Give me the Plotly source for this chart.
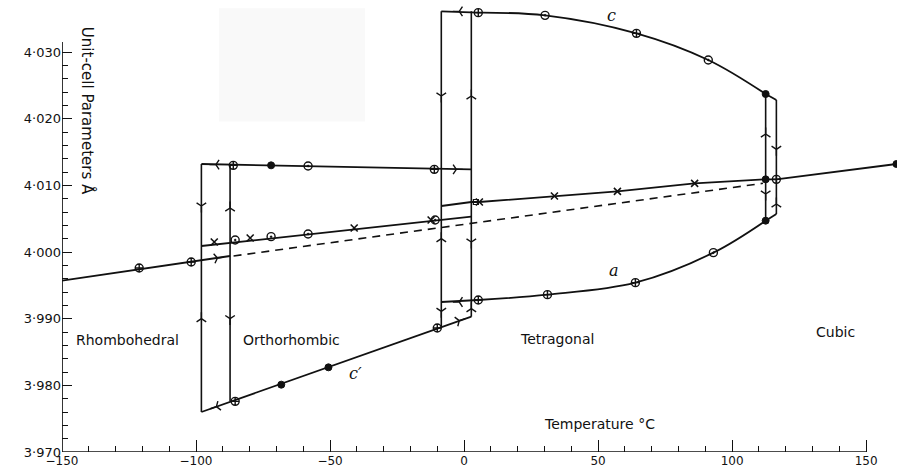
import plotly.graph_objects as go

# ---------------- data (temperature °C, unit-cell parameter Å) ----------------
# rhombohedral a (solid) and its cubic extrapolation (dashed)
rh_T = [-150.0, -87.3]
rh_a = [3.9957, 3.9994]
extrap_T = [-86.0, 111.5]
extrap_a = [3.9994, 4.0103]

# orthorhombic branches
orth_T = [-98.0, 2.7]
orth_c = [4.0132, 4.0124]
orth_a = [4.0009, 4.0053]
orth_cp = [3.9760, 3.9903]

# tetragonal c
tet_c_flat_T = [-8.5, 5.3]
tet_c_flat = [4.0361, 4.0359]
tet_c_T = [5.3, 30.2, 64.3, 91.1, 112.5]
tet_c = [4.0359, 4.0355, 4.0328, 4.0288, 4.0237]
tet_c_end_T = [112.5, 116.5]
tet_c_end = [4.0237, 4.0228]

# tetragonal a
tet_a_flat_T = [-8.5, 5.3]
tet_a_flat = [3.9925, 3.9928]
tet_a_T = [5.3, 31.1, 63.9, 93.0, 112.5]
tet_a = [3.9928, 3.9936, 3.9954, 3.9999, 4.0047]
tet_a_end_T = [112.5, 116.5]
tet_a_end = [4.0047, 4.0057]

# tetragonal mean (crosses) and cubic a
tet_m_T = [-8.5, 2.7, 5.7, 33.7, 57.2, 86.0, 112.5]
tet_m = [4.0069, 4.0075, 4.0075, 4.0084, 4.0091, 4.0103, 4.0109]
cub_T = [112.5, 116.5, 161.3]
cub_a = [4.0109, 4.0109, 4.0132]

# transition (hysteresis) verticals
trans_T = [-98.0, -87.3, -8.5, 2.7, 112.5, 116.5]
trans_top = [4.0132, 4.0131, 4.0361, 4.0361, 4.0237, 4.0228]
trans_bot = [3.9760, 3.9776, 3.9888, 3.9903, 4.0047, 4.0057]

# measured points
pc_T = [-121.2, -101.8, -86.1, -11.1, -85.4, -10.0, 5.3, 64.3, 5.3, 31.1, 63.9, 116.5]
pc_v = [3.9976, 3.9985, 4.0130, 4.0124, 3.9776, 3.9886, 4.0359, 4.0328, 3.9928, 3.9936, 3.9954, 4.0109]
pd_T = [-58.2, -85.4, -72.0, -58.2, -10.8, 30.2, 91.1, 93.0]
pd_v = [4.0129, 4.0018, 4.0023, 4.0027, 4.0048, 4.0355, 4.0288, 3.9999]
pf_T = [-72.0, -68.2, -50.6, 112.5, 112.5, 112.5, 161.3]
pf_v = [4.0130, 3.9801, 3.9827, 4.0237, 4.0047, 4.0109, 4.0132]
px_T = [-93.2, -79.8, -41.0, -12.3, 5.7, 33.7, 57.2, 86.0]
px_v = [4.0015, 4.0021, 4.0036, 4.0048, 4.0075, 4.0084, 4.0091, 4.0103]
psq_T = [4.4]
psq_v = [4.0075]

# direction arrows along the curves
arr_down_T = [-98.0, -87.3, -8.5, -8.5, 2.7, 112.5, 116.5]
arr_down_v = [4.0069, 3.9900, 4.0234, 3.9911, 4.0015, 4.0087, 4.0154]
arr_up_T = [-98.0, -87.3, -8.5, 2.7, 2.7, 112.5, 116.5]
arr_up_v = [3.9900, 4.0066, 4.0020, 4.0234, 3.9915, 4.0177, 4.0072]
arr_left_T = [-92.6, -1.8, -1.8, -92.4]
arr_left_v = [4.0131, 4.0361, 3.9925, 3.9768]
arr_left_ang = [0, 0, 0, -19]
arr_right_T = [-2.9, -92.0, -1.8]
arr_right_v = [4.0124, 3.9991, 3.9897]
arr_right_ang = [0, -8, -19]

# axis ticks
x_major = [-150, -100, -50, 0, 50, 100, 150]
x_major_text = ["\u2212150", "\u2212100", "\u221250", "0", "50", "100", "150"]
x_minor = [t for t in range(-150, 151, 10) if t % 50 != 0]
y_major = [3.970, 3.980, 3.990, 4.000, 4.010, 4.020, 4.030]
y_major_text = ["3\u00b7970", "3\u00b7980", "3\u00b7990", "4\u00b7000", "4\u00b7010", "4\u00b7020", "4\u00b7030"]
y_minor = [round(3.970 + 0.002 * i, 3) for i in range(31) if i % 5 != 0]

# ---------------- figure ----------------
BLK = "#111111"
LW = 1.8
fig = go.Figure()

def line(x, y, dash="solid", shape="linear", w=LW):
    fig.add_trace(go.Scatter(x=x, y=y, mode="lines", line=dict(color=BLK, width=w, dash=dash, shape=shape),
                             hoverinfo="skip", showlegend=False))

line(rh_T, rh_a)
line(extrap_T, extrap_a, dash="8px,6px", w=1.6)
line(orth_T, orth_c)
line(orth_T, orth_a)
line(orth_T, orth_cp)
line(tet_c_flat_T, tet_c_flat)
line(tet_c_T, tet_c, shape="spline")
line(tet_c_end_T, tet_c_end)
line(tet_a_flat_T, tet_a_flat)
line(tet_a_T, tet_a, shape="spline")
line(tet_a_end_T, tet_a_end)
line(tet_m_T, tet_m)
line(cub_T, cub_a)
for t, top, bot in zip(trans_T, trans_top, trans_bot):
    line([t, t], [bot, top], w=1.6)

def pts(x, y, symbol, size, lw=1.2, fill=BLK):
    fig.add_trace(go.Scatter(x=x, y=y, mode="markers",
                             marker=dict(symbol=symbol, size=size, color=fill,
                                         line=dict(color=BLK, width=lw)),
                             hoverinfo="skip", showlegend=False))

pts(pc_T, pc_v, "circle-cross-open", 8, 1.4)
pts(pd_T, pd_v, "circle-open-dot", 8, 1.4)
pts(pf_T, pf_v, "circle", 7, 1)
pts(px_T, px_v, "x-thin", 7, 1.6)
pts(psq_T, psq_v, "square-open", 5, 1.2)

def arrows(x, y, symbol, angle=0):
    fig.add_trace(go.Scatter(x=x, y=y, mode="markers",
                             marker=dict(symbol=symbol, size=8, angle=angle, color=BLK,
                                         line=dict(color=BLK, width=1.4)),
                             hoverinfo="skip", showlegend=False))

arrows(arr_down_T, arr_down_v, "y-down")
arrows(arr_up_T, arr_up_v, "y-up")
arrows(arr_left_T, arr_left_v, "y-left", arr_left_ang)
arrows(arr_right_T, arr_right_v, "y-right", arr_right_ang)

FONT = "DejaVu Sans"
ann = [
    dict(x=-125.5, y=3.9868, text="Rhombohedral", size=14),
    dict(x=-64.2, y=3.9868, text="Orthorhombic", size=14),
    dict(x=34.7, y=3.9869, text="Tetragonal", size=14),
    dict(x=138.7, y=3.9880, text="Cubic", size=14),
    dict(x=50.7, y=3.9742, text="Temperature \u00b0C", size=14),
]
for a in ann:
    fig.add_annotation(x=a["x"], y=a["y"], text=a["text"], showarrow=False,
                       font=dict(family=FONT, size=a["size"], color=BLK))
for x, y, t in [(55, 4.0355, "c"), (56, 3.9972, "a"), (-40.5, 3.9818, "c\u2032")]:
    fig.add_annotation(x=x, y=y, text="<i>" + t + "</i>", showarrow=False,
                       font=dict(family="DejaVu Serif", size=16, color=BLK))
fig.add_annotation(x=-140.5, y=4.0211, text="Unit-cell Parameters \u00c5", textangle=90,
                   showarrow=False, font=dict(family=FONT, size=15, color=BLK))

shapes = [
    dict(type="rect", xref="paper", yref="paper", x0=0.188, x1=0.363, y0=0.731, y1=0.982,
         fillcolor="#f9f9f9", line=dict(width=0), layer="below"),
    dict(type="line", xref="x", yref="y", x0=-150, x1=150, y0=3.970, y1=3.970,
         line=dict(color=BLK, width=1.7)),
    dict(type="line", xref="x", yref="y", x0=-150, x1=-150, y0=3.970, y1=4.0315,
         line=dict(color=BLK, width=1.7)),
]

fig.update_layout(
    width=897, height=469,
    margin=dict(l=62, r=0, t=0, b=17),
    paper_bgcolor="white", plot_bgcolor="white",
    shapes=shapes,
    hovermode=False,
    xaxis=dict(range=[-150, 161.5], showgrid=False, zeroline=False, showline=False,
               tickmode="array", tickvals=x_major, ticktext=x_major_text,
               ticks="inside", ticklen=12, tickwidth=1.3, tickcolor=BLK,
               minor=dict(tickmode="array", tickvals=x_minor, ticks="inside", ticklen=6,
                          tickwidth=1.2, tickcolor=BLK),
               tickfont=dict(family=FONT, size=12, color=BLK), automargin=False),
    yaxis=dict(range=[3.970, 4.0378], showgrid=False, zeroline=False, showline=False,
               tickmode="array", tickvals=y_major, ticktext=y_major_text,
               ticks="inside", ticklen=10, tickwidth=1.3, tickcolor=BLK,
               minor=dict(tickmode="array", tickvals=y_minor, ticks="inside", ticklen=6,
                          tickwidth=1.2, tickcolor=BLK),
               tickfont=dict(family=FONT, size=13, color=BLK), automargin=False),
)

fig.write_html("out.html")
